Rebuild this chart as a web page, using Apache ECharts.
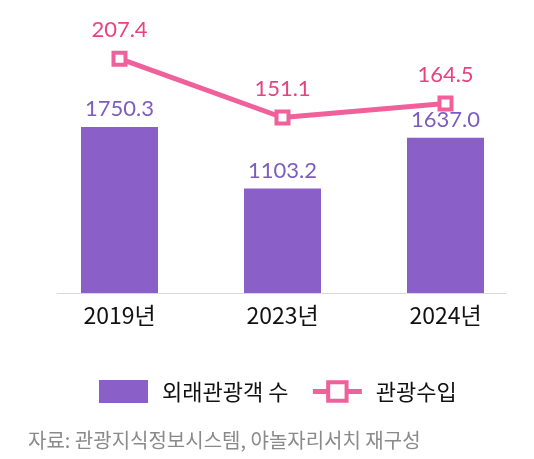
<!DOCTYPE html>
<html>
<head>
    <meta charset="utf-8">
    <title>외래관광객 수 / 관광수입</title>
    <script type="text/javascript" src="https://cdn.jsdelivr.net/npm/echarts@6/dist/echarts.min.js"></script>
    <style>
        html, body { margin: 0; padding: 0; background: #fff; }
    </style>
</head>
<body>
    <div id="chart" style="width: 534px;height:459px;"></div>
</body>
<script type="text/javascript">
    var years = ['2019년', '2023년', '2024년'];
    var visitors = [1750.3, 1103.2, 1637.0];   // 외래관광객 수
    var revenue = [207.4, 151.1, 164.5];       // 관광수입

    var purple = '#8b5fc8';
    var pink = '#f0609b';
    var krFont = '"Noto Sans CJK KR", "Noto Sans", sans-serif';

    var chart = echarts.init(document.getElementById('chart'));
    var option = {
        animation: false,
        backgroundColor: '#fff',
        grid: [
            { left: 38, right: 7, top: 56, bottom: 166 },
            // 축선만 그리는 그리드 (원본에서 축선이 막대 범위보다 짧음)
            { left: 57, right: 28, top: 56, bottom: 166 }
        ],
        legend: {
            left: 99,
            top: 380,
            padding: 0,
            itemWidth: 49,
            itemHeight: 23,
            itemGap: 22,
            data: [
                { name: '외래관광객 수', icon: 'rect' },
                {
                    name: '관광수입',
                    lineStyle: { color: pink, width: 5 },
                    itemStyle: { color: '#fff', borderColor: pink, borderWidth: 4 }
                }
            ],
            textStyle: {
                fontFamily: krFont,
                fontSize: 22,
                color: '#111',
                padding: [0, 0, 0, 9]
            }
        },
        xAxis: [
            {
                type: 'category',
                gridIndex: 0,
                data: years,
                axisLine: { show: false },
                axisTick: { show: false },
                axisLabel: {
                    margin: 11,
                    fontFamily: krFont,
                    fontSize: 23,
                    color: '#111'
                }
            },
            {
                type: 'value',
                gridIndex: 1,
                min: 0,
                max: 1,
                axisLine: { show: true, lineStyle: { color: '#d9d9d9', width: 1 } },
                axisTick: { show: false },
                axisLabel: { show: false },
                splitLine: { show: false }
            }
        ],
        yAxis: [
            { type: 'value', gridIndex: 0, min: 0, max: 2500, show: false },
            { type: 'value', gridIndex: 0, min: -17, max: 210, show: false },
            { type: 'value', gridIndex: 1, min: 0, max: 1, show: false }
        ],
        series: [
            {
                name: '외래관광객 수',
                type: 'bar',
                xAxisIndex: 0,
                yAxisIndex: 0,
                barWidth: 77,
                data: visitors,
                itemStyle: { color: purple },
                label: {
                    show: true,
                    position: 'top',
                    distance: 7,
                    fontFamily: 'Lato, sans-serif',
                    fontSize: 22,
                    color: '#7d5cc0',
                    formatter: function (p) { return p.value.toFixed(1); }
                }
            },
            {
                name: '관광수입',
                type: 'line',
                xAxisIndex: 0,
                yAxisIndex: 1,
                z: 5,
                data: revenue,
                symbol: 'rect',
                symbolSize: 12,
                lineStyle: { color: pink, width: 5 },
                itemStyle: { color: '#fff', borderColor: pink, borderWidth: 4 },
                label: {
                    show: true,
                    position: 'top',
                    distance: 10,
                    fontFamily: 'Lato, sans-serif',
                    fontSize: 22,
                    color: '#e8437f',
                    formatter: function (p) { return p.value.toFixed(1); }
                }
            }
        ],
        graphic: [
            {
                type: 'text',
                left: 28,
                top: 430,
                style: {
                    text: '자료: 관광지식정보시스템, 야놀자리서치 재구성',
                    fontFamily: krFont,
                    fontSize: 20,
                    fill: '#8a8a8a'
                }
            }
        ]
    };
    chart.setOption(option);
</script>
</html>
